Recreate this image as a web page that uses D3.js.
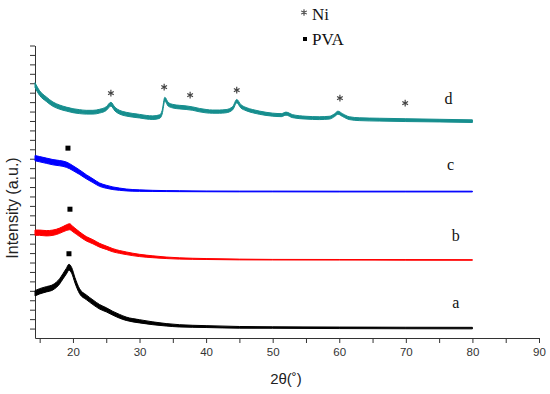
<!DOCTYPE html>
<html>
<head>
<meta charset="utf-8">
<script src="https://cdn.jsdelivr.net/npm/d3@7"></script>
<style>
 body { margin: 0; background: #fff; }
 svg { display: block; }
</style>
</head>
<body>
<svg id="chart" width="550" height="394"></svg>
<script>
// XRD patterns a-d (arbitrary intensity units, 1 unit = 1 y tick)
// spread = half thickness of the noise band
const thetaA = [14.3,15,16,17,18,18.5,19,19.4,19.8,20.3,21,22,23,24,25,26,27,28,30,32,34,36,40,45,50,60,70,80];
const valA = [4.74,4.95,5.16,5.38,6.01,6.54,7.07,7.50,7.18,6.12,4.95,4.32,3.79,3.31,2.99,2.62,2.30,2.04,1.77,1.56,1.40,1.29,1.21,1.13,1.11,1.08,1.06,1.05];
const spreadA = [0.28,0.28,0.28,0.28,0.28,0.28,0.3,0.32,0.3,0.28,0.26,0.25,0.25,0.24,0.22,0.2,0.2,0.18,0.17,0.15,0.13,0.12,0.1,0.09,0.08,0.08,0.08,0.08];

const thetaB = [14.3,15,16,17,18,18.5,19,19.5,20,21,22,23,24,25,26,27,28,30,32,34,36,40,45,50,60,70,80];
const valB = [11.16,11.16,11.10,11.16,11.37,11.53,11.69,11.79,11.53,11.0,10.52,10.20,9.83,9.57,9.30,9.12,8.98,8.75,8.61,8.50,8.43,8.37,8.32,8.30,8.29,8.28,8.27];
const spreadB = [0.28,0.28,0.28,0.28,0.28,0.28,0.3,0.32,0.28,0.25,0.23,0.22,0.2,0.18,0.17,0.15,0.14,0.12,0.1,0.08,0.07,0.05,0.04,0.03,0.03,0.03,0.03];

const thetaC = [14.3,15,16,17,18,18.5,19,19.5,20,21,22,23,24,25,26,27,28,30,32,34,36,40,45,50,60,70,80];
const valC = [19.06,18.95,18.79,18.63,18.53,18.47,18.37,18.21,18.0,17.57,17.09,16.67,16.25,16.03,15.87,15.77,15.69,15.62,15.59,15.57,15.56,15.54,15.53,15.53,15.52,15.52,15.52];
const spreadC = [0.28,0.28,0.28,0.28,0.28,0.28,0.28,0.27,0.26,0.24,0.22,0.2,0.18,0.16,0.14,0.12,0.1,0.08,0.06,0.05,0.05,0.04,0.04,0.04,0.04,0.04,0.04];

const thetaD = [14.3,15,16,17,18,19,20,21,22,23,24,25,25.7,26.3,27,28,30,31,32,33,33.4,33.8,34.3,35,36,37,38,39,40,41,42,43,44,44.6,45.2,46,47,48,50,51.3,52,53,55,57,58.5,59.3,59.8,60.5,61.5,63,66,70,75,80];
const valD = [26.80,25.95,25.31,24.78,24.47,24.26,24.09,23.99,23.93,23.93,24.04,24.31,24.78,24.26,23.93,23.72,23.51,23.40,23.35,23.46,23.93,25.31,24.78,24.57,24.47,24.41,24.31,24.15,24.04,23.99,23.99,24.04,24.36,25.10,24.57,24.26,24.04,23.88,23.67,23.62,23.78,23.51,23.35,23.30,23.35,23.62,23.88,23.62,23.30,23.19,23.14,23.09,23.04,22.98];
const spreadD = [0.26,0.25,0.24,0.23,0.22,0.21,0.21,0.21,0.2,0.2,0.2,0.2,0.2,0.2,0.2,0.2,0.19,0.19,0.19,0.19,0.19,0.2,0.2,0.19,0.19,0.19,0.18,0.18,0.18,0.17,0.17,0.17,0.17,0.18,0.18,0.17,0.17,0.17,0.16,0.16,0.16,0.16,0.15,0.15,0.15,0.15,0.16,0.15,0.15,0.15,0.15,0.15,0.14,0.14];

const curveNames = ["a", "b", "c", "d"];
const curveColors = ["#000000", "#ff0000", "#0000ff", "#168e8e"];
const labelTheta = [77.5, 77.5, 76.7, 76.4];
const labelVal = [3.2, 10.3, 17.8, 24.8];

// markers
const niTheta = [25.7, 33.7, 37.6, 44.6, 60.1, 69.9];
const niVal = [25.95, 26.59, 25.74, 26.27, 25.42, 24.89];
const pvaTheta = [19.4, 19.55, 19.25];
const pvaVal = [8.93, 13.65, 20.12];

const xTicks = d3.range(15, 91, 5);
const yTicks = d3.range(1, 32);

const svg = d3.select("#chart");
const x = d3.scaleLinear().domain([14.3, 90]).range([35, 539]);
const y = d3.scaleLinear().domain([0, 31]).range([338, 45.5]);
const sans = "Arial, 'Liberation Sans', sans-serif";
const serif = "'Times New Roman', 'Liberation Serif', serif";
const star = d3.symbol().type(d3.symbolAsterisk).size(30);

function drawAxes() {
	const xa = d3.axisBottom(x).tickValues(xTicks)
		.tickFormat(d => d % 10 === 0 ? d : "")
		.tickSize(5).tickSizeOuter(0);
	const gx = svg.append("g").attr("transform", "translate(0,338)").call(xa);
	gx.selectAll("path,line").attr("stroke", "#333");
	gx.selectAll("text").attr("fill", "#333").attr("font-family", sans)
		.attr("font-size", 11.5).attr("dy", "0.85em");

	const ya = d3.axisLeft(y).tickValues(yTicks).tickFormat("")
		.tickSize(5).tickSizeOuter(0);
	const gy = svg.append("g").attr("transform", "translate(35,0)").call(ya);
	gy.selectAll("path,line").attr("stroke", "#333");

	svg.append("text").attr("x", 286).attr("y", 384).attr("text-anchor", "middle")
		.attr("font-family", sans).attr("font-size", 15).attr("fill", "#222")
		.text("2θ(˚)");
	svg.append("text").attr("transform", "translate(18,208) rotate(-90)").attr("text-anchor", "middle")
		.attr("font-family", sans).attr("font-size", 16).attr("fill", "#222")
		.text("Intensity (a.u.)");
}

function drawCurve(theta, vals, spread, color) {
	const pts = theta.map((t, i) => ({t: t, v: vals[i], s: spread[i]}));
	const area = d3.area().x(d => x(d.t)).y0(d => y(d.v - d.s)).y1(d => y(d.v + d.s))
		.curve(d3.curveMonotoneX);
	svg.append("path").datum(pts).attr("d", area)
		.attr("fill", color).attr("stroke", color).attr("stroke-width", 1);
}

function drawMarkers() {
	svg.selectAll(".ni").data(niTheta).enter().append("path")
		.attr("transform", (d, i) => "translate(" + x(d) + "," + y(niVal[i]) + ")")
		.attr("d", star).attr("fill", "none").attr("stroke", "#444").attr("stroke-width", 1.2);
	svg.selectAll(".pva").data(pvaTheta).enter().append("rect")
		.attr("x", d => x(d) - 2.5).attr("y", (d, i) => y(pvaVal[i]) - 2.5)
		.attr("width", 5).attr("height", 5).attr("fill", "#000");
	svg.selectAll(".lab").data(curveNames).enter().append("text")
		.attr("x", (d, i) => x(labelTheta[i])).attr("y", (d, i) => y(labelVal[i]))
		.attr("text-anchor", "middle").attr("font-family", serif).attr("font-size", 16).attr("fill", "#111")
		.text(d => d);
	// legend
	svg.append("path").attr("transform", "translate(304,12.5)").attr("d", star)
		.attr("fill", "none").attr("stroke", "#444").attr("stroke-width", 1.1);
	svg.append("text").attr("x", 312).attr("y", 19.5)
		.attr("font-family", serif).attr("font-size", 17).attr("fill", "#111").text("Ni");
	svg.append("rect").attr("x", 303).attr("y", 37).attr("width", 4).attr("height", 4).attr("fill", "#000");
	svg.append("text").attr("x", 312).attr("y", 44.5)
		.attr("font-family", serif).attr("font-size", 17).attr("fill", "#111").text("PVA");
}

drawAxes();
drawCurve(thetaA, valA, spreadA, curveColors[0]);
drawCurve(thetaB, valB, spreadB, curveColors[1]);
drawCurve(thetaC, valC, spreadC, curveColors[2]);
drawCurve(thetaD, valD, spreadD, curveColors[3]);
drawMarkers();
</script>
</body>
</html>
